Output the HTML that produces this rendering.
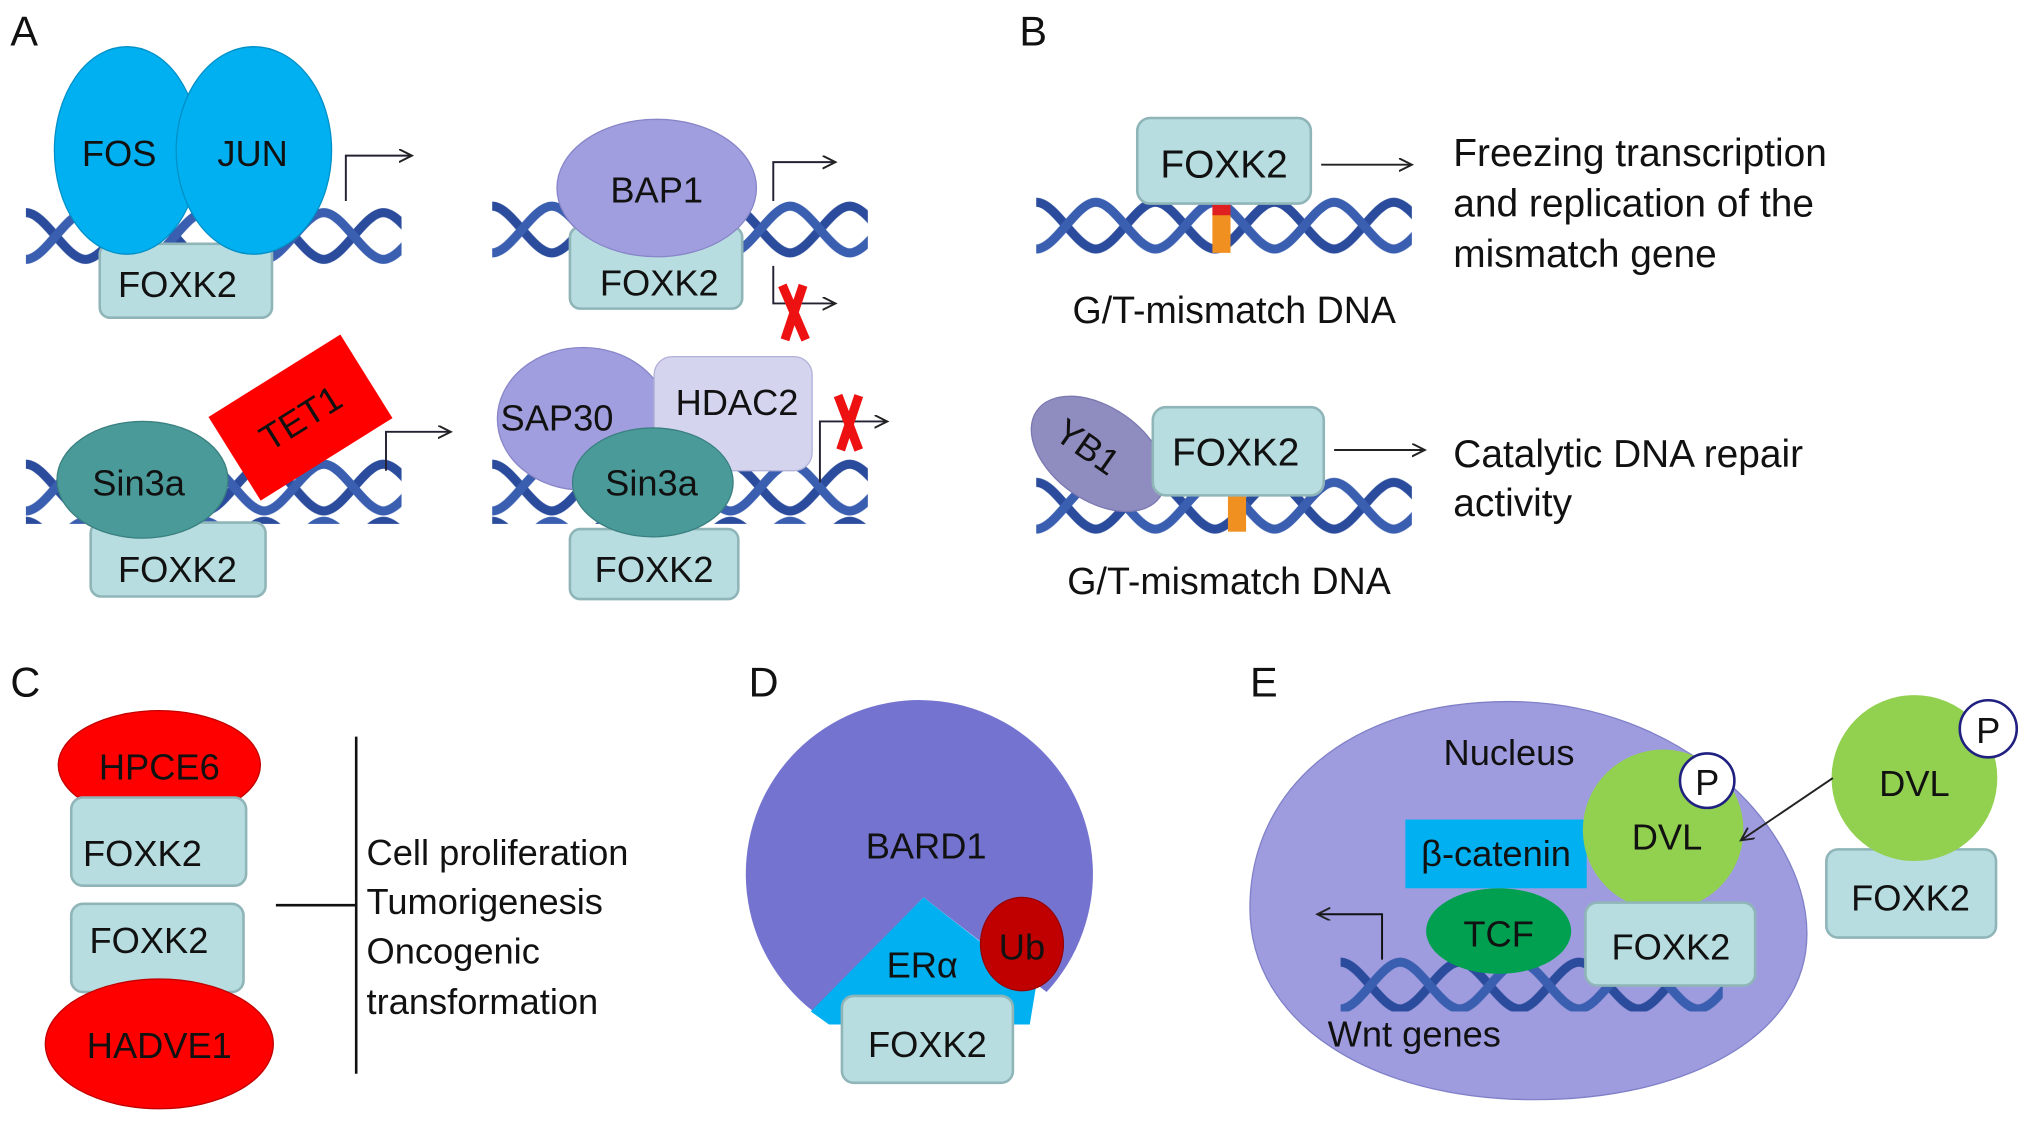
<!DOCTYPE html>
<html><head><meta charset="utf-8"><style>
html,body{margin:0;padding:0;background:#fff;}
svg{display:block;}
text{font-family:"Liberation Sans",Arial,sans-serif;fill:#111;}
</style></head><body>
<svg width="2031" height="1123" viewBox="0 0 1568 866" preserveAspectRatio="none" xmlns="http://www.w3.org/2000/svg">
<defs>
<pattern id="hx" x="0" y="0" width="92" height="44" patternUnits="userSpaceOnUse">
<path d="M-46,40 C-31,40 -15,4 0,4 C15,4 31,40 46,40 C61,40 77,4 92,4 C107,4 123,40 138,40" fill="none" stroke="#2b4c9c" stroke-width="7"/>
<path d="M-46,4 C-31,4 -15,40 0,40 C15,40 31,4 46,4 C61,4 77,40 92,40 C107,40 123,4 138,4" fill="none" stroke="#3a5eb0" stroke-width="7"/>
</pattern>
<marker id="ar" markerWidth="12" markerHeight="12" refX="10" refY="5" orient="auto" markerUnits="userSpaceOnUse"><path d="M0,0 L10,5 L0,10" fill="none" stroke="#222" stroke-width="1.5"/></marker>
</defs>
<g font-size="32"><text x="8" y="35">A</text><text x="787" y="35">B</text><text x="8" y="537">C</text><text x="578" y="537">D</text><text x="965" y="537">E</text></g>

<!-- A top-left -->
<g transform="translate(20,160)"><rect width="290" height="44" fill="url(#hx)"/></g>
<rect x="77" y="188" width="133" height="57" rx="8" fill="#b7dde0" stroke="#8fb5b8" stroke-width="2"/>
<text x="137" y="229" font-size="28" text-anchor="middle">FOXK2</text>
<ellipse cx="98" cy="116" rx="56" ry="80" fill="#00b0f0" stroke="#0090c8"/>
<ellipse cx="196" cy="116" rx="60" ry="80" fill="#00b0f0" stroke="#0090c8"/>
<text x="92" y="128" font-size="28" text-anchor="middle">FOS</text>
<text x="195" y="128" font-size="28" text-anchor="middle">JUN</text>
<path d="M267,155 V120 H318" fill="none" stroke="#223" stroke-width="1.5" marker-end="url(#ar)"/>

<!-- A top-right -->
<g transform="translate(380,155)"><rect width="290" height="44" fill="url(#hx)"/></g>
<rect x="440" y="175" width="133" height="63" rx="8" fill="#b7dde0" stroke="#8fb5b8" stroke-width="2"/>
<text x="509" y="228" font-size="28" text-anchor="middle">FOXK2</text>
<ellipse cx="507" cy="145" rx="77" ry="53" fill="#a09ede" stroke="#8886c8"/>
<text x="507" y="156" font-size="28" text-anchor="middle">BAP1</text>
<path d="M597,155 V125 H645" fill="none" stroke="#223" stroke-width="1.5" marker-end="url(#ar)"/>
<path d="M597,205 V234 H645" fill="none" stroke="#223" stroke-width="1.5" marker-end="url(#ar)"/>
<path d="M604,220 L622,262 M620,220 L606,262" stroke="#ee1111" stroke-width="7"/>

<!-- A bottom-left -->
<g transform="translate(20,354)"><rect width="290" height="50" fill="url(#hx)"/></g>
<rect x="70" y="403" width="135" height="57" rx="8" fill="#b7dde0" stroke="#8fb5b8" stroke-width="2"/>
<text x="137" y="449" font-size="28" text-anchor="middle">FOXK2</text>
<g transform="translate(232,322) rotate(-32)"><rect x="-60" y="-38" width="120" height="76" fill="#ff0000"/><text x="0" y="10" font-size="28" text-anchor="middle">TET1</text></g>
<ellipse cx="110" cy="370" rx="66" ry="45" fill="#4a9a9a" stroke="#3a8080"/>
<text x="107" y="382" font-size="28" text-anchor="middle">Sin3a</text>
<path d="M298,363 V333 H348" fill="none" stroke="#223" stroke-width="1.5" marker-end="url(#ar)"/>

<!-- A bottom-right -->
<g transform="translate(380,354)"><rect width="290" height="50" fill="url(#hx)"/></g>
<rect x="440" y="408" width="130" height="54" rx="8" fill="#b7dde0" stroke="#8fb5b8" stroke-width="2"/>
<text x="505" y="449" font-size="28" text-anchor="middle">FOXK2</text>
<ellipse cx="450" cy="323" rx="66" ry="55" fill="#a09ede" stroke="#8886c8"/>
<rect x="505" y="275" width="122" height="88" rx="14" fill="#d4d4ee" stroke="#b0b0d8"/>
<text x="430" y="332" font-size="28" text-anchor="middle">SAP30</text>
<text x="569" y="320" font-size="28" text-anchor="middle">HDAC2</text>
<ellipse cx="504" cy="372" rx="62" ry="42" fill="#4a9a9a" stroke="#3a8080"/>
<text x="503" y="382" font-size="28" text-anchor="middle">Sin3a</text>
<path d="M633,372 V325 H685" fill="none" stroke="#223" stroke-width="1.5" marker-end="url(#ar)"/>
<path d="M647,305 L663,347 M663,305 L649,347" stroke="#ee1111" stroke-width="7"/>

<!-- B -->
<g transform="translate(800,152)"><rect width="290" height="44" fill="url(#hx)"/></g>
<rect x="936" y="165" width="14" height="30" fill="#f09020"/><rect x="936" y="150" width="14" height="16" fill="#e02020"/>
<rect x="878" y="91" width="134" height="66" rx="10" fill="#b7dde0" stroke="#8fb5b8" stroke-width="2"/>
<text x="945" y="137" font-size="30" text-anchor="middle">FOXK2</text>
<path d="M1020,127 H1090" stroke="#222" stroke-width="1.5" marker-end="url(#ar)"/>
<g font-size="30"><text x="1122" y="128">Freezing transcription</text><text x="1122" y="167">and replication of the</text><text x="1122" y="206">mismatch gene</text>
<text x="828" y="249" font-size="29">G/T-mismatch DNA</text>
<text x="1122" y="360">Catalytic DNA repair</text><text x="1122" y="398">activity</text>
<text x="824" y="458" font-size="29">G/T-mismatch DNA</text></g>
<g transform="translate(800,368)"><rect width="290" height="44" fill="url(#hx)"/></g>
<rect x="948" y="380" width="14" height="30" fill="#f09020"/>
<g transform="translate(848,350) rotate(35)"><ellipse rx="58" ry="36" fill="#8f8cc0" stroke="#7a78b0"/><text x="-10" y="10" font-size="28" text-anchor="middle">YB1</text></g>
<rect x="890" y="314" width="132" height="68" rx="10" fill="#b7dde0" stroke="#8fb5b8" stroke-width="2"/>
<text x="954" y="359" font-size="30" text-anchor="middle">FOXK2</text>
<path d="M1030,347 H1100" stroke="#222" stroke-width="1.5" marker-end="url(#ar)"/>

<!-- C -->
<ellipse cx="123" cy="590" rx="78" ry="42" fill="#ff0000" stroke="#c00000"/>
<text x="123" y="601" font-size="28" text-anchor="middle">HPCE6</text>
<rect x="55" y="615" width="135" height="68" rx="9" fill="#b7dde0" stroke="#8fb5b8" stroke-width="2"/>
<text x="110" y="668" font-size="28" text-anchor="middle">FOXK2</text>
<rect x="55" y="697" width="133" height="68" rx="9" fill="#b7dde0" stroke="#8fb5b8" stroke-width="2"/>
<text x="115" y="735" font-size="28" text-anchor="middle">FOXK2</text>
<ellipse cx="123" cy="805" rx="88" ry="50" fill="#ff0000" stroke="#c00000"/>
<text x="123" y="816" font-size="28" text-anchor="middle">HADVE1</text>
<path d="M213,698 H275 M275,568 V828" stroke="#111" stroke-width="2"/>
<g font-size="28"><text x="283" y="667">Cell proliferation</text><text x="283" y="705">Tumorigenesis</text><text x="283" y="743">Oncogenic</text><text x="283" y="782">transformation</text></g>

<!-- D -->
<path d="M628,780 A134,134 0 1 1 808,765 L775,740 L713,692 Z" fill="#7474d0"/>
<path d="M713,692 L800,760 L795,790 L640,790 L626,780 Z" fill="#00b0f0"/>
<text x="715" y="662" font-size="28" text-anchor="middle">BARD1</text>
<text x="712" y="754" font-size="28" text-anchor="middle">ERα</text>
<ellipse cx="789" cy="728" rx="32" ry="36" fill="#c00000" stroke="#900"/>
<text x="789" y="740" font-size="28" text-anchor="middle">Ub</text>
<rect x="650" y="768" width="132" height="67" rx="9" fill="#b7dde0" stroke="#8fb5b8" stroke-width="2"/>
<text x="716" y="815" font-size="28" text-anchor="middle">FOXK2</text>

<!-- E -->
<path d="M1165,541 C1300,541 1395,640 1395,720 C1395,800 1300,848 1185,848 C1060,848 965,790 965,700 C965,610 1040,541 1165,541 Z" fill="#9e9cdf" stroke="#8080c8"/>
<text x="1165" y="590" font-size="28" text-anchor="middle">Nucleus</text>
<g transform="translate(1035,738)"><rect width="295" height="42" fill="url(#hx)"/></g>
<rect x="1085" y="632" width="140" height="53" fill="#00b0f0"/>
<text x="1155" y="668" font-size="28" text-anchor="middle">β-catenin</text>
<circle cx="1284" cy="640" r="62" fill="#92d050"/>
<text x="1287" y="655" font-size="28" text-anchor="middle">DVL</text>
<circle cx="1318" cy="602" r="21" fill="#fff" stroke="#202080" stroke-width="2"/>
<text x="1318" y="613" font-size="28" text-anchor="middle">P</text>
<ellipse cx="1157" cy="718" rx="56" ry="33" fill="#00a050"/>
<text x="1157" y="730" font-size="28" text-anchor="middle">TCF</text>
<rect x="1224" y="696" width="131" height="64" rx="9" fill="#b7dde0" stroke="#8fb5b8" stroke-width="2"/>
<text x="1290" y="740" font-size="28" text-anchor="middle">FOXK2</text>
<path d="M1067,740 V705 H1017" fill="none" stroke="#111" stroke-width="1.5" marker-end="url(#ar)"/>
<text x="1025" y="807" font-size="28">Wnt genes</text>
<rect x="1410" y="655" width="131" height="68" rx="9" fill="#b7dde0" stroke="#8fb5b8" stroke-width="2"/>
<text x="1475" y="702" font-size="28" text-anchor="middle">FOXK2</text>
<circle cx="1478" cy="600" r="64" fill="#92d050"/>
<text x="1478" y="614" font-size="28" text-anchor="middle">DVL</text>
<circle cx="1535" cy="562" r="22" fill="#fff" stroke="#202080" stroke-width="2"/>
<text x="1535" y="573" font-size="28" text-anchor="middle">P</text>
<path d="M1415,600 L1344,648" stroke="#222" stroke-width="1.5" marker-end="url(#ar)"/>
</svg>
</body></html>
